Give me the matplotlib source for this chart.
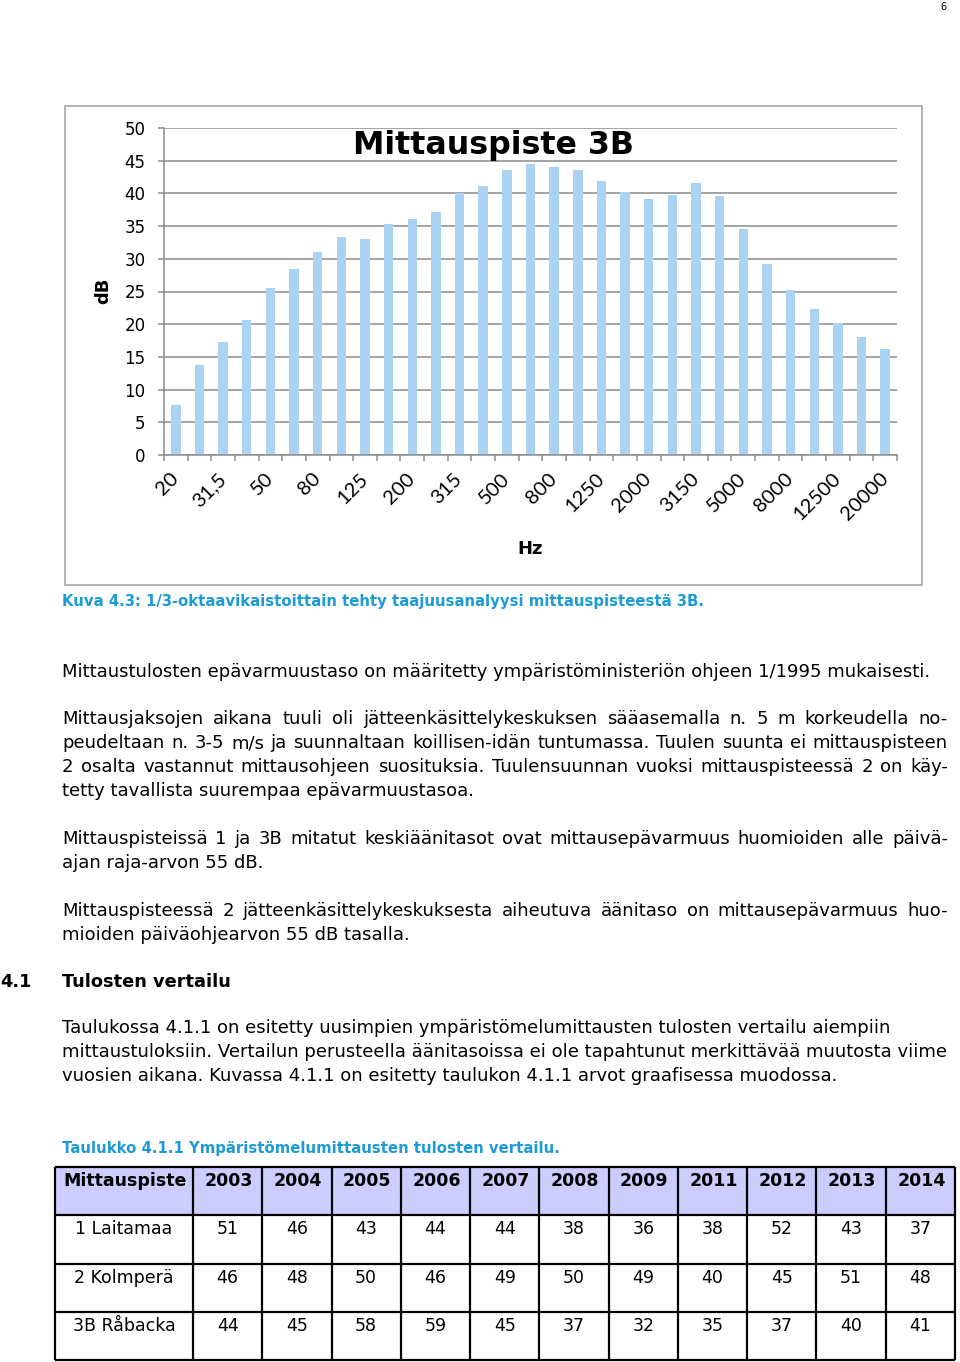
import matplotlib
matplotlib.use('Agg')
import matplotlib.pyplot as plt
from matplotlib.patches import Rectangle

# 1/3-octave band levels at measuring point 3B
bands = ['20', '25', '31,5', '40', '50', '63', '80', '100', '125', '160', '200',
         '250', '315', '400', '500', '630', '800', '1000', '1250', '1600', '2000',
         '2500', '3150', '4000', '5000', '6300', '8000', '10000', '12500', '16000', '20000']
db_levels = [7.6, 13.8, 17.3, 20.6, 25.5, 28.4, 31.0, 33.3, 33.0, 35.3, 36.1,
             37.2, 40.1, 41.1, 43.6, 44.5, 44.0, 43.6, 41.9, 40.2, 39.1,
             39.7, 41.6, 39.6, 34.5, 29.2, 25.2, 22.3, 20.2, 18.0, 16.2]
y_ticks = list(range(0, 55, 5))

# comparison table
years = ['2003', '2004', '2005', '2006', '2007', '2008', '2009', '2011', '2012', '2013', '2014']
points = ['1 Laitamaa', '2 Kolmperä', '3B Råbacka']
laitamaa = [51, 46, 43, 44, 44, 38, 36, 38, 52, 43, 37]
kolmpera = [46, 48, 50, 46, 49, 50, 49, 40, 45, 51, 48]
rabacka = [44, 45, 58, 59, 45, 37, 32, 35, 37, 40, 41]

# page text: (baseline y, text, justified)
body_lines = [
    (677, 'Mittaustulosten epävarmuustaso on määritetty ympäristöministeriön ohjeen 1/1995 mukaisesti.', False),
    (724, 'Mittausjaksojen aikana tuuli oli jätteenkäsittelykeskuksen sääasemalla n. 5 m korkeudella no-', True),
    (748, 'peudeltaan n. 3-5 m/s ja suunnaltaan koillisen-idän tuntumassa. Tuulen suunta ei mittauspisteen', True),
    (772, '2 osalta vastannut mittausohjeen suosituksia. Tuulensuunnan vuoksi mittauspisteessä 2 on käy-', True),
    (796, 'tetty tavallista suurempaa epävarmuustasoa.', False),
    (844, 'Mittauspisteissä 1 ja 3B mitatut keskiäänitasot ovat mittausepävarmuus huomioiden alle päivä-', True),
    (868, 'ajan raja-arvon 55 dB.', False),
    (916, 'Mittauspisteessä 2 jätteenkäsittelykeskuksesta aiheutuva äänitaso on mittausepävarmuus huo-', True),
    (940, 'mioiden päiväohjearvon 55 dB tasalla.', False),
    (1033, 'Taulukossa 4.1.1 on esitetty uusimpien ympäristömelumittausten tulosten vertailu aiempiin', False),
    (1057, 'mittaustuloksiin. Vertailun perusteella äänitasoissa ei ole tapahtunut merkittävää muutosta viime', False),
    (1081, 'vuosien aikana. Kuvassa 4.1.1 on esitetty taulukon 4.1.1 arvot graafisessa muodossa.', False),
]

TEAL = '#1e9bd7'
BAR = '#a9d2f3'
GRID = '#8c8c8c'
BODY_SIZE = 13.0
CAPTION_SIZE = 10.7

fig = plt.figure(figsize=(9.6, 13.62), dpi=100)
page = fig.add_axes([0, 0, 1, 1])
page.set_xlim(0, 960)
page.set_ylim(1362, 0)
page.axis('off')
r = fig.canvas.get_renderer()


def put_line(y, line, justify, size, x0=62, x1=948, **kw):
    """Draw one text line, spreading words to x1 when justified"""
    if not justify:
        page.text(x0, y, line, fontsize=size, va='baseline', **kw)
        return
    words = line.split(' ')
    texts = [page.text(0, y, w, fontsize=size, va='baseline', **kw) for w in words]
    widths = [t.get_window_extent(r).width for t in texts]
    gap = (x1 - x0 - sum(widths)) / (len(words) - 1)
    x = x0
    for t, w in zip(texts, widths):
        t.set_x(x)
        x += w + gap


# page number
page.text(943, 7, '6', fontsize=7, ha='center', va='center')

# chart frame
page.add_patch(Rectangle((65, 106), 857, 479, fill=False, ec='#a6a6a6', lw=1.2))

# ---- bar chart ----
ax = fig.add_axes([164 / 960, 1 - 455 / 1362, 733 / 960, 327 / 1362])
x = list(range(len(bands)))
ax.bar(x, db_levels, width=0.4, color=BAR, zorder=2)
ax.set_xlim(-0.5, len(bands) - 0.5)
ax.set_ylim(0, 50)
ax.set_yticks(y_ticks)
ax.yaxis.grid(True, color=GRID, lw=1.1)
ax.set_axisbelow(True)

ax.set_xticks(x[::2])
ax.set_xticklabels(bands[::2], rotation=45, ha='right', va='center',
                   rotation_mode='anchor', fontfamily='Lato', fontsize=14.5)
ax.set_xticks([i - 0.5 for i in range(len(bands) + 1)], minor=True)
ax.tick_params(axis='x', which='major', length=0, pad=15)
ax.tick_params(axis='x', which='minor', length=4, color=GRID, width=1.1)
ax.tick_params(axis='y', length=4.3, color=GRID, width=1.1, pad=9, labelsize=12)
for side in ['top', 'right']:
    ax.spines[side].set_visible(False)
for side in ['left', 'bottom']:
    ax.spines[side].set_color(GRID)
    ax.spines[side].set_linewidth(1.1)

ax.text(0.449, 0.948, 'Mittauspiste 3B', transform=ax.transAxes, ha='center',
        va='center', fontsize=22.8, fontweight='bold')
page.text(103, 291, 'dB', rotation=90, ha='center', va='center', fontsize=13, fontweight='bold')
page.text(530, 549, 'Hz', ha='center', va='center', fontsize=13, fontweight='bold')

# figure caption
page.text(62, 606, 'Kuva 4.3: 1/3-oktaavikaistoittain tehty taajuusanalyysi mittauspisteestä 3B.',
          fontsize=CAPTION_SIZE, fontweight='bold', color=TEAL, va='baseline')

# body text
for y, line, just in body_lines:
    put_line(y, line, just, BODY_SIZE)

# section heading
page.text(0, 987, '4.1', fontsize=12.8, fontweight='bold', va='baseline')
page.text(62, 987, 'Tulosten vertailu', fontsize=12.8, fontweight='bold', va='baseline')

# ---- table ----
page.text(62, 1153, 'Taulukko 4.1.1 Ympäristömelumittausten tulosten vertailu.',
          fontsize=CAPTION_SIZE, fontweight='bold', color=TEAL, va='baseline')

left, first_w, right = 55, 138, 955
col_w = (right - left - first_w) / len(years)
col_edges = [left, left + first_w] + [left + first_w + col_w * (i + 1) for i in range(len(years))]
row_edges = [1167, 1215, 1264, 1312, 1360]

page.add_patch(Rectangle((left, row_edges[0]), right - left, row_edges[1] - row_edges[0],
                         fc='#ccccff', ec='none'))
page.vlines(col_edges, row_edges[0], row_edges[-1], color='black', lw=1.6)
page.hlines(row_edges, left, right, color='black', lw=1.6)

centers = [(col_edges[i] + col_edges[i + 1]) / 2 for i in range(len(col_edges) - 1)]
header = ['Mittauspiste'] + years
for cx, lab in zip(centers, header):
    page.text(cx + 1, row_edges[0] + 14, lab, ha='center', va='center',
              fontsize=12.5, fontweight='bold')

for row, (name, vals) in enumerate(zip(points, [laitamaa, kolmpera, rabacka])):
    cy = row_edges[row + 1] + 14
    page.text(centers[0], cy, name, ha='center', va='center', fontsize=12.5)
    for cx, v in zip(centers[1:], vals):
        page.text(cx, cy, str(v), ha='center', va='center', fontsize=12.5)

fig.savefig('out.png', dpi=100)
